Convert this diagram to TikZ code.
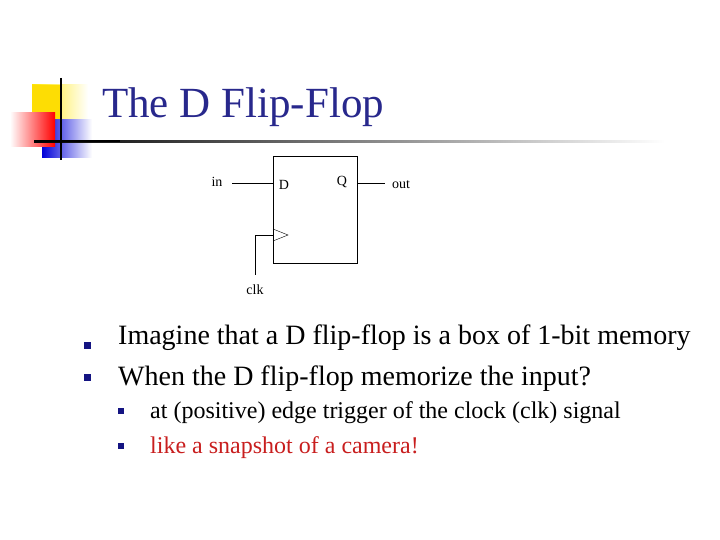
\documentclass[tikz,border=0pt]{standalone}
\usepackage{fontspec}
\setmainfont{Liberation Serif}
\definecolor{navy}{RGB}{40,40,140}
\definecolor{bul}{RGB}{20,20,130}
\definecolor{redt}{RGB}{200,30,30}
\begin{document}
\begin{tikzpicture}[x=1pt,y=-1pt,
  lbl/.style={inner sep=0pt,font=\fontsize{14}{16}\selectfont},
  bt/.style={anchor=base west,inner sep=0pt,font=\fontsize{28}{32}\selectfont},
  st/.style={anchor=base west,inner sep=0pt,font=\fontsize{24}{28}\selectfont},
  bsq/.style={fill=bul,minimum size=7pt,inner sep=0pt},
  ssq/.style={fill=bul,minimum size=6pt,inner sep=0pt}]
\useasboundingbox (0,0) rectangle (720,540);
% logo
\shade[left color=yellow!80!orange,right color=white] (32,85) rectangle (88,120);
\fill[yellow!80!orange] (32,85) rectangle (62,120);
\shade[left color=blue!85!black,right color=white] (42,120) rectangle (92,158);
\shade[left color=white,right color=red] (10,113) rectangle (55,147);
\shade[left color=black,right color=white] (34,140.5) rectangle (665,142.5);
\fill[black] (34,140.5) rectangle (120,142.5);
\draw[line width=2pt] (61,78) -- (61,160);
\node[anchor=base west,inner sep=0pt,text=navy,font=\fontsize{43}{46}\selectfont] (title) at (102,118) {The D Flip-Flop};
% flip-flop
\node[draw,thick,minimum width=84pt,minimum height=107pt,inner sep=0pt] (ff) at (315,209.5) {};
\node[lbl] (D) at (284,185) {D};
\node[lbl] (Q) at (342,182) {Q};
\node[lbl] (in) at (217,182) {in};
\node[lbl] (out) at (401,185) {out};
\node[lbl] (clk) at (255,290) {clk};
\coordinate (inA) at (232,183);
\coordinate (outB) at (385,183);
\draw (inA) -- (inA -| ff.west);
\draw (outB -| ff.east) -- (outB);
\draw (273,229) -- (288,235) -- (273,241);
\draw (273,235) -- (255,235) -- (255,275);
% bullets
\node[bsq] (b1) at (87,345) {};
\node[bsq] (b2) at (87,377) {};
\node[bt] (t1) at (118,344) {Imagine that a D flip-flop is a box of 1-bit memory};
\node[bt] (t2) at (118,385) {When the D flip-flop memorize the input?};
\node[ssq] (s1) at (121,411) {};
\node[ssq] (s2) at (121,446) {};
\node[st] (u1) at (150,418) {at (positive) edge trigger of the clock (clk) signal};
\node[st,text=redt] (u2) at (150,453) {like a snapshot of a camera!};
\end{tikzpicture}
\end{document}
